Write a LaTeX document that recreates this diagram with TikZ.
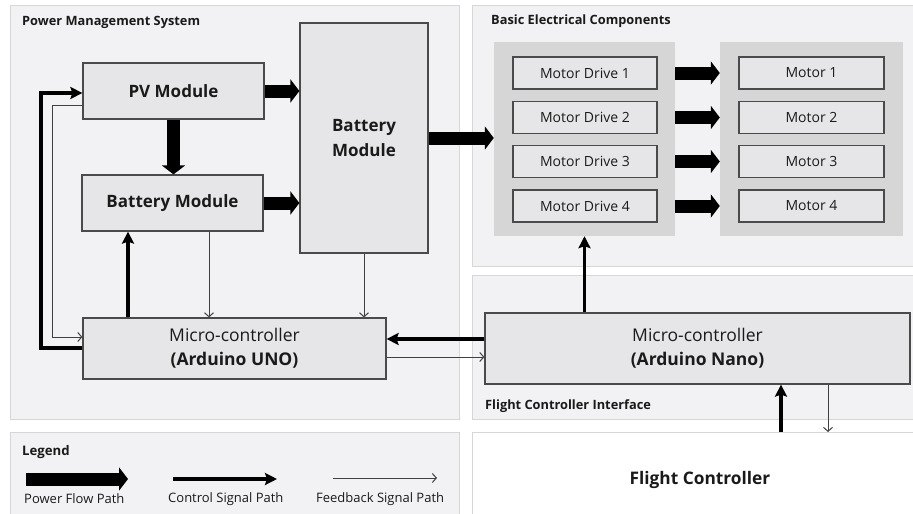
\documentclass[tikz,border=0pt]{standalone}
\usepackage{fontspec}
\setmainfont{Open Sans}
\usetikzlibrary{arrows.meta}
\definecolor{panelfill}{HTML}{F2F2F4}
\definecolor{panelborder}{HTML}{D6D6D8}
\definecolor{boxfill}{HTML}{E6E6E8}
\definecolor{boxborder}{HTML}{4A4A4A}
\definecolor{groupfill}{HTML}{D6D6D6}
\definecolor{txt}{HTML}{1A1A1A}
\definecolor{fbcol}{HTML}{404040}
\begin{document}
\begin{tikzpicture}[x=1pt,y=-1pt,
  panel/.style={draw=panelborder, fill=panelfill, line width=1.2pt, anchor=north west, inner sep=0pt},
  whitepanel/.style={panel, fill=white},
  box/.style={draw=boxborder, fill=boxfill, line width=1.2pt, inner sep=0pt, align=center, text=txt},
  group/.style={fill=groupfill, inner sep=0pt},
  mdbox/.style={box, minimum height=32pt, font=\fontsize{14}{16}\selectfont},
  heading/.style={anchor=west, inner sep=0pt, text=txt, font=\fontsize{12.8}{14}\selectfont\bfseries},
  bigtxt/.style={font=\fontsize{17}{24}\selectfont},
  legtxt/.style={anchor=west, inner sep=0pt, text=txt, font=\fontsize{13}{15}\selectfont},
  power/.style={line width=13pt, -{Triangle[length=9pt,width=23pt]}},
  ctrl/.style={line width=3.5pt, -{Stealth[length=12pt,width=12pt,inset=2pt]}},
  fb/.style={draw=fbcol, line width=1pt, -{Straight Barb[length=4pt,width=9pt]}}
]
\useasboundingbox (0,0) rectangle (913,514);
% panels
\node[panel, minimum width=449pt, minimum height=414pt] (PMS) at (10,5) {};
\node[panel, minimum width=445pt, minimum height=261pt] (BEC) at (472,5) {};
\node[panel, minimum width=445pt, minimum height=144pt] (FCI) at (472,275) {};
\node[whitepanel, minimum width=445pt, minimum height=90pt] (FCp) at (472,432) {};
\node[panel, minimum width=449pt, minimum height=90pt] (LEG) at (10,432) {};
% headings
\node[heading] (hPMS) at (22,22) {Power Management System};
\node[heading] (hBEC) at (491,21) {Basic Electrical Components};
\node[heading] (hFCI) at (485,406) {Flight Controller Interface};
\node[inner sep=0pt, text=txt, font=\fontsize{17.3}{20}\selectfont\bfseries] (FCt) at (700,480) {Flight Controller};
% power management boxes
\node[box, minimum width=181pt, minimum height=56pt, font=\fontsize{17}{20}\selectfont\bfseries] (PV) at (173.5,91) {PV Module};
\node[box, minimum width=181pt, minimum height=56pt, font=\fontsize{17}{20}\selectfont\bfseries] (Bat) at (172.5,203) {Battery Module};
\node[box, minimum width=128pt, minimum height=230pt, font=\fontsize{17}{25}\selectfont\bfseries] (Big) at (364,138) {Battery\\Module};
\node[box, minimum width=303pt, minimum height=61pt, font=\fontsize{17.5}{24}\selectfont] (UNO) at (234.5,348.5) {Micro-controller\\\textbf{(Arduino UNO)}};
\node[box, minimum width=425pt, minimum height=71pt, font=\fontsize{17.5}{24}\selectfont] (Nano) at (697.5,348.5) {Micro-controller\\\textbf{(Arduino Nano)}};
% motor groups
\node[group, minimum width=181pt, minimum height=194pt] (MDG) at (584.5,139) {};
\node[group, minimum width=183pt, minimum height=194pt] (MG) at (811.5,139) {};
\foreach \i/\y in {1/73,2/117.5,3/161.5,4/206}{
  \node[mdbox, minimum width=144pt] (MD\i) at (585,\y) {Motor Drive \i};
  \node[mdbox, minimum width=145pt] (M\i) at (811.5,\y) {Motor \i};
  \draw[power] (MD\i.east -| MDG.east) -- (MD\i.east -| MG.west);
}
% helper coordinates
\coordinate (k1) at (41,348);
\coordinate (k2) at (41,93);
\coordinate (f1) at (52,105);
\coordinate (f2) at (52,337);
\coordinate (k3) at (128,0);
\coordinate (f3) at (209,0);
\coordinate (k4) at (0,339);
\coordinate (f4) at (0,357);
\coordinate (k5) at (781,0);
\coordinate (f5) at (828,0);
% power arrows
\draw[power] (PV.east) -- (PV.east -| Big.west);
\draw[power] (Bat.east) -- (Bat.east -| Big.west);
\draw[power] (PV.south) -- (PV.south |- Bat.north);
\draw[power] (Big.east) -- (Big.east -| MDG.west);
% control arrows
\draw[ctrl] (k1 -| UNO.west) -- (k1) -- (k2) -- (k2 -| PV.west);
\draw[ctrl] (k3 |- UNO.north) -- (k3 |- Bat.south);
\draw[ctrl] (k4 -| Nano.west) -- (k4 -| UNO.east);
\draw[ctrl] (MDG.south |- Nano.north) -- (MDG.south);
\draw[ctrl] (k5 |- FCp.north) -- (k5 |- Nano.south);
% feedback arrows
\draw[fb] (f1 -| PV.west) -- (f1) -- (f2) -- (f2 -| UNO.west);
\draw[fb] (f3 |- Bat.south) -- (f3 |- UNO.north);
\draw[fb] (Big.south) -- (Big.south |- UNO.north);
\draw[fb] (f4 -| UNO.east) -- (f4 -| Nano.west);
\draw[fb] (f5 |- Nano.south) -- (f5 |- FCp.north);
% legend
\node[heading, font=\fontsize{13.2}{15}\selectfont\bfseries] (hLEG) at (22,452) {Legend};
\coordinate (lp1) at (26,479); \coordinate (lp2) at (128,479);
\coordinate (lc1) at (173,479); \coordinate (lc2) at (277,479);
\coordinate (lf1) at (333,478); \coordinate (lf2) at (437,478);
\draw[power] (lp1) -- (lp2);
\draw[ctrl] (lc1) -- (lc2);
\draw[fb] (lf1) -- (lf2);
\node[legtxt] (tp) at (24,499) {Power Flow Path};
\node[legtxt] (tc) at (168,499) {Control Signal Path};
\node[legtxt] (tf) at (316,499) {Feedback Signal Path};
\end{tikzpicture}
\end{document}
